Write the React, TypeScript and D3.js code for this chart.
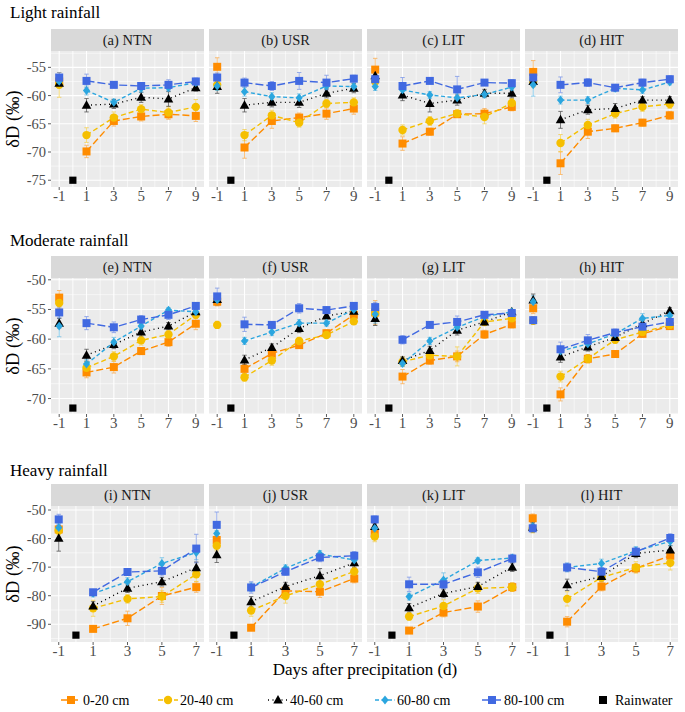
import React from 'react';
import * as d3 from 'd3';

// series labels and colours
const depths = ['0-20 cm', '20-40 cm', '40-60 cm', '60-80 cm', '80-100 cm'];
const depthColors = ['#FF8C00', '#F5BF00', '#000000', '#2BA6DF', '#4169E1'];
const depthShapes = ['square', 'circle', 'triangle', 'diamond', 'square'];
const depthDash = ['7,3', '5,3', '1,3.5', '4,2.5', '8,3'];
const rainLabel = 'Rainwater';

const rowTitles = ['Light rainfall', 'Moderate rainfall', 'Heavy rainfall'];
const panelTitles = [
  ['(a) NTN', '(b) USR', '(c) LIT', '(d) HIT'],
  ['(e) NTN', '(f) USR', '(g) LIT', '(h) HIT'],
  ['(i) NTN', '(j) USR', '(k) LIT', '(l) HIT'],
];
const daysLong = [-1, 1, 3, 5, 7, 9];
const daysShort = [-1, 1, 3, 5, 7];
const yTicks = [
  [-75, -70, -65, -60, -55],
  [-70, -65, -60, -55, -50],
  [-90, -80, -70, -60, -50],
];
const rainwater = [-75.0, -71.6, -93.8];

// mean dD per depth (rows) and day (cols)
const lightNTN = [
  [-57.5, -69.9, -64.5, -63.7, -63.3, -63.6],
  [-58.1, -67.0, -63.9, -62.4, -63.0, -62.0],
  [-57.8, -61.7, -61.5, -60.3, -60.6, -58.6],
  [-57.5, -59.1, -61.2, -58.7, -58.6, -57.7],
  [-56.8, -57.4, -58.1, -58.3, -58.1, -57.5],
];
const lightNTNErr = [
  [1.0, 1.1, 0.9, 0.8, 0.9, 1.0],
  [2.2, 1.3, 1.0, 0.8, 1.0, 1.3],
  [0.8, 1.2, 0.8, 0.9, 1.3, 0.6],
  [0.6, 0.8, 0.6, 0.7, 0.6, 0.5],
  [0.9, 1.2, 0.5, 0.6, 0.9, 0.6],
];
const lightUSR = [
  [-54.9, -69.2, -64.5, -63.9, -63.2, -62.3],
  [-58.1, -67.0, -63.5, -64.8, -61.4, -61.2],
  [-58.4, -61.7, -61.2, -61.2, -59.6, -58.7],
  [-58.3, -59.3, -60.2, -60.4, -58.3, -58.4],
  [-56.8, -57.7, -58.3, -57.4, -57.7, -57.0],
];
const lightUSRErr = [
  [1.6, 1.9, 1.3, 0.8, 1.0, 1.0],
  [0.9, 1.0, 0.9, 0.8, 0.7, 0.8],
  [1.2, 1.2, 0.8, 0.9, 0.8, 0.8],
  [0.8, 0.8, 0.7, 0.7, 0.6, 0.6],
  [0.8, 0.8, 0.8, 1.5, 1.3, 0.6],
];
const lightLIT = [
  [-55.4, -68.5, -66.4, -63.3, -63.2, -62.0],
  [-57.5, -66.1, -64.5, -63.2, -63.8, -61.3],
  [-56.5, -59.9, -61.4, -60.8, -59.6, -59.6],
  [-58.4, -59.0, -59.9, -60.4, -59.8, -58.5],
  [-57.1, -58.3, -57.4, -58.9, -57.7, -57.8],
];
const lightLITErr = [
  [2.0, 1.2, 0.6, 0.6, 0.9, 0.7],
  [1.0, 0.9, 0.8, 0.7, 1.2, 0.8],
  [1.0, 1.0, 1.5, 0.9, 0.7, 0.8],
  [0.7, 1.0, 0.6, 0.8, 0.6, 0.6],
  [0.6, 1.5, 0.4, 2.3, 0.5, 0.6],
];
const lightHIT = [
  [-55.8, -72.0, -66.4, -65.8, -64.8, -63.5],
  [-57.5, -68.4, -65.2, -63.2, -62.0, -61.5],
  [-57.5, -64.3, -62.5, -62.3, -60.8, -60.8],
  [-58.1, -60.8, -60.8, -58.7, -59.0, -57.6],
  [-56.8, -58.1, -57.7, -58.6, -57.7, -57.1],
];
const lightHITErr = [
  [2.0, 2.0, 1.2, 0.6, 0.6, 0.7],
  [1.0, 1.5, 1.0, 0.8, 0.8, 0.8],
  [0.8, 1.5, 0.8, 0.9, 0.6, 0.6],
  [2.0, 0.7, 0.6, 0.6, 0.6, 0.5],
  [0.8, 1.4, 0.7, 0.5, 0.6, 0.6],
];
const modNTN = [
  [-53.0, -65.6, -64.7, -62.0, -60.5, -57.4],
  [-53.9, -64.8, -62.9, -60.2, -59.2, -55.9],
  [-57.3, -62.7, -60.9, -58.8, -57.8, -55.4],
  [-57.8, -64.2, -60.5, -57.8, -55.1, -55.4],
  [-55.5, -57.3, -58.0, -56.7, -55.9, -54.4],
];
const modNTNErr = [
  [1.2, 0.9, 1.0, 0.6, 0.7, 1.0],
  [0.9, 1.0, 0.8, 0.8, 0.6, 0.6],
  [0.8, 1.0, 0.7, 0.8, 0.6, 0.6],
  [1.8, 0.8, 0.8, 0.5, 0.4, 0.5],
  [0.9, 1.1, 0.9, 0.7, 0.8, 0.5],
];
const modUSR = [
  [-53.7, -65.0, -62.4, -61.0, -59.0, -55.9],
  [-57.6, -66.4, -63.6, -60.3, -59.3, -57.0],
  [-53.3, -63.5, -61.4, -58.2, -56.1, -55.3],
  [-53.4, -60.3, -58.8, -57.3, -57.3, -55.0],
  [-52.8, -57.5, -57.6, -54.8, -55.1, -54.4],
];
const modUSRErr = [
  [0.7, 0.8, 0.6, 0.5, 0.6, 0.6],
  [0.6, 0.7, 0.8, 0.6, 0.5, 0.5],
  [0.8, 0.8, 0.6, 0.7, 0.4, 0.5],
  [0.9, 0.6, 0.6, 0.6, 0.5, 0.4],
  [1.4, 1.2, 0.5, 0.8, 0.5, 0.5],
];
const modLIT = [
  [-55.5, -66.3, -63.6, -62.9, -59.2, -57.5],
  [-55.7, -63.8, -62.7, -62.9, -57.1, -56.5],
  [-56.5, -63.6, -61.9, -58.5, -57.1, -55.4],
  [-55.8, -64.1, -60.3, -58.0, -56.2, -55.4],
  [-54.6, -60.1, -57.6, -57.1, -55.9, -55.6],
];
const modLITErr = [
  [2.0, 1.2, 0.6, 0.9, 0.7, 0.6],
  [1.2, 0.8, 1.0, 1.6, 0.6, 0.6],
  [1.2, 0.6, 0.7, 0.8, 0.5, 0.4],
  [1.5, 0.5, 0.6, 0.6, 0.5, 0.4],
  [0.8, 0.7, 0.4, 1.0, 0.5, 0.4],
];
const modHIT = [
  [-54.8, -69.3, -63.3, -62.5, -59.1, -57.8],
  [-56.9, -66.3, -63.3, -60.1, -58.8, -57.6],
  [-53.4, -63.0, -61.3, -59.7, -57.4, -55.2],
  [-53.7, -62.0, -60.8, -59.1, -56.5, -56.0],
  [-56.8, -61.7, -60.2, -58.9, -57.9, -57.1],
];
const modHITErr = [
  [0.9, 1.1, 0.7, 0.6, 0.6, 0.5],
  [0.6, 0.9, 0.7, 0.6, 0.5, 0.5],
  [1.0, 0.9, 0.7, 0.6, 0.5, 0.5],
  [1.0, 0.6, 0.6, 0.5, 0.8, 0.5],
  [0.6, 1.2, 1.0, 0.6, 0.5, 0.5],
];
const heavyNTN = [
  [-56.8, -91.6, -87.9, -80.1, -77.0],
  [-57.2, -84.4, -81.1, -80.3, -72.5],
  [-59.9, -83.6, -77.4, -75.1, -70.2],
  [-56.2, -79.2, -75.1, -68.7, -64.9],
  [-53.3, -78.8, -71.7, -71.3, -63.5],
];
const heavyNTNErr = [
  [1.0, 1.0, 2.5, 3.0, 1.8],
  [1.5, 2.8, 1.5, 2.0, 2.5],
  [4.5, 1.5, 1.5, 1.5, 2.0],
  [1.5, 1.2, 1.4, 2.0, 2.5],
  [1.8, 1.0, 1.0, 1.8, 5.0],
];
const heavyUSR = [
  [-60.5, -91.2, -78.3, -78.6, -74.0],
  [-62.5, -85.2, -80.1, -76.0, -71.5],
  [-65.7, -82.1, -76.8, -73.0, -68.5],
  [-58.2, -77.0, -70.4, -65.4, -67.5],
  [-55.2, -77.1, -71.6, -66.6, -66.0],
];
const heavyUSRErr = [
  [1.5, 1.0, 1.5, 2.0, 1.5],
  [1.8, 2.0, 2.5, 2.0, 1.5],
  [2.7, 1.8, 1.5, 2.5, 1.5],
  [1.0, 1.5, 1.2, 1.2, 1.2],
  [4.5, 2.0, 1.2, 1.5, 1.5],
];
const heavyLIT = [
  [-58.2, -92.2, -85.9, -83.8, -77.0],
  [-59.3, -87.3, -83.6, -77.4, -77.0],
  [-55.8, -84.2, -79.2, -76.8, -70.0],
  [-56.4, -80.3, -74.5, -67.7, -66.8],
  [-53.3, -76.0, -76.0, -71.8, -67.0],
];
const heavyLITErr = [
  [1.5, 0.8, 1.5, 2.0, 1.5],
  [1.8, 1.3, 2.2, 1.8, 1.5],
  [1.2, 1.5, 1.5, 1.5, 1.5],
  [1.2, 1.2, 2.5, 1.0, 1.0],
  [1.2, 2.5, 1.5, 1.8, 1.5],
];
const heavyHIT = [
  [-52.9, -89.1, -76.8, -70.4, -66.0],
  [-56.5, -81.1, -73.6, -70.1, -68.5],
  [-56.0, -76.2, -73.3, -65.2, -64.0],
  [-55.8, -70.1, -68.7, -64.3, -61.0],
  [-56.4, -70.1, -71.6, -64.6, -59.8],
];
const heavyHITErr = [
  [1.5, 1.8, 1.5, 1.5, 1.5],
  [1.5, 2.5, 1.5, 2.0, 2.5],
  [1.5, 2.0, 1.5, 1.5, 1.5],
  [1.5, 1.5, 1.5, 1.5, 1.5],
  [1.5, 1.5, 1.5, 1.5, 1.5],
];

const means = [
  [lightNTN, lightUSR, lightLIT, lightHIT],
  [modNTN, modUSR, modLIT, modHIT],
  [heavyNTN, heavyUSR, heavyLIT, heavyHIT],
];
const errs = [
  [lightNTNErr, lightUSRErr, lightLITErr, lightHITErr],
  [modNTNErr, modUSRErr, modLITErr, modHITErr],
  [heavyNTNErr, heavyUSRErr, heavyLITErr, heavyHITErr],
];

// layout
const W = 685;
const H = 712;
const panelX = [51, 209, 367, 525];
const panelW = 153;
const plotTop = [51, 278, 506];
const plotH = 136;
const stripH = 22;
const titleY = [18, 246, 476];
const xDomains: [number, number][] = [[-1.6, 9.6], [-1.6, 9.6], [-1.45, 7.45]];
const yDomains: [number, number][] = [[-76.2, -52.1], [-72.6, -49.7], [-96.2, -48.6]];
const FONT = '"Liberation Serif", "Times New Roman", serif';

function Marker({ shape, cx, cy, color, s = 1 }: { shape: string; cx: number; cy: number; color: string; s?: number }) {
  if (shape === 'square') {
    const h = 4 * s;
    return <rect x={cx - h} y={cy - h} width={2 * h} height={2 * h} fill={color} />;
  }
  if (shape === 'circle') {
    return <circle cx={cx} cy={cy} r={4.2 * s} fill={color} />;
  }
  if (shape === 'triangle') {
    const w = 4.8 * s;
    return (
      <path
        d={`M${cx},${cy - 5 * s}L${cx + w},${cy + 3.5 * s}L${cx - w},${cy + 3.5 * s}Z`}
        fill={color}
      />
    );
  }
  const a = 3.6 * s;
  const b = 4.4 * s;
  return <path d={`M${cx},${cy - b}L${cx + a},${cy}L${cx},${cy + b}L${cx - a},${cy}Z`} fill={color} />;
}

function minorBreaks(ticks: number[], domain: [number, number]) {
  const step = ticks[1] - ticks[0];
  const out: number[] = [];
  for (let t = ticks[0] - step / 2; t <= ticks[ticks.length - 1] + step / 2 + 1e-9; t += step) {
    if (t >= Math.min(...domain) && t <= Math.max(...domain)) out.push(t);
  }
  return out;
}

function Panel({ row, col }: { row: number; col: number }) {
  const x0 = panelX[col];
  const y0 = plotTop[row];
  const days = row === 2 ? daysShort : daysLong;
  const x = d3.scaleLinear().domain(xDomains[row]).range([x0, x0 + panelW]);
  const y = d3.scaleLinear().domain(yDomains[row]).range([y0 + plotH, y0]);
  const yt = yTicks[row];
  const yMinor = minorBreaks(yt, yDomains[row]);
  const xMinor = minorBreaks(days.slice(1), xDomains[row]).concat([0]);
  const data = means[row][col];
  const err = errs[row][col];
  const line = d3
    .line<number>()
    .x((_, i) => x(days[i + 1]))
    .y((d) => y(d));

  return (
    <g>
      {/* strip */}
      <rect x={x0} y={y0 - stripH} width={panelW} height={stripH} fill="#D9D9D9" />
      <text
        x={x0 + panelW / 2}
        y={y0 - stripH / 2 + 5}
        textAnchor="middle"
        fontSize={14.5}
        fill="#1A1A1A"
        fontFamily={FONT}
      >
        {panelTitles[row][col]}
      </text>
      {/* background + grid */}
      <rect x={x0} y={y0} width={panelW} height={plotH} fill="#EBEBEB" />
      {yMinor.map((v) => (
        <line key={'ym' + v} x1={x0} x2={x0 + panelW} y1={y(v)} y2={y(v)} stroke="#fff" strokeWidth={0.55} />
      ))}
      {xMinor.map((v) => (
        <line key={'xm' + v} x1={x(v)} x2={x(v)} y1={y0} y2={y0 + plotH} stroke="#fff" strokeWidth={0.55} />
      ))}
      {yt.map((v) => (
        <line key={'y' + v} x1={x0} x2={x0 + panelW} y1={y(v)} y2={y(v)} stroke="#fff" strokeWidth={1.1} />
      ))}
      {days.map((v) => (
        <line key={'x' + v} x1={x(v)} x2={x(v)} y1={y0} y2={y0 + plotH} stroke="#fff" strokeWidth={1.1} />
      ))}
      {/* error bars */}
      {data.map((series, si) =>
        series.map((v, i) => (
          <g key={`e${si}-${i}`} stroke={depthColors[si]} strokeWidth={0.8} opacity={0.65}>
            <line x1={x(days[i])} x2={x(days[i])} y1={y(v - err[si][i])} y2={y(v + err[si][i])} />
            <line x1={x(days[i]) - 2.2} x2={x(days[i]) + 2.2} y1={y(v - err[si][i])} y2={y(v - err[si][i])} />
            <line x1={x(days[i]) - 2.2} x2={x(days[i]) + 2.2} y1={y(v + err[si][i])} y2={y(v + err[si][i])} />
          </g>
        ))
      )}
      {/* lines */}
      {data.map((series, si) => (
        <path
          key={'l' + si}
          d={line(series.slice(1)) || ''}
          fill="none"
          stroke={depthColors[si]}
          strokeWidth={1.4}
          strokeDasharray={depthDash[si]}
        />
      ))}
      {/* points */}
      {data.map((series, si) =>
        series.map((v, i) => (
          <Marker key={`p${si}-${i}`} shape={depthShapes[si]} cx={x(days[i])} cy={y(v)} color={depthColors[si]} />
        ))
      )}
      <Marker shape="square" cx={x(0)} cy={y(rainwater[row])} color="#000" s={0.9} />
      {/* x axis */}
      {days.map((v) => (
        <g key={'xt' + v}>
          <line x1={x(v)} x2={x(v)} y1={y0 + plotH} y2={y0 + plotH + 3} stroke="#333" strokeWidth={0.8} />
          <text
            x={x(v)}
            y={y0 + plotH + 14}
            textAnchor="middle"
            fontSize={15}
            fill="#4D4D4D"
            fontFamily={FONT}
          >
            {v}
          </text>
        </g>
      ))}
      {/* y axis */}
      {col === 0 &&
        yt.map((v) => (
          <g key={'yt' + v}>
            <line x1={x0 - 3} x2={x0} y1={y(v)} y2={y(v)} stroke="#333" strokeWidth={0.8} />
            <text
              x={x0 - 5}
              y={y(v) + 5}
              textAnchor="end"
              fontSize={14.5}
              fill="#4D4D4D"
              fontFamily={FONT}
            >
              {v}
            </text>
          </g>
        ))}
    </g>
  );
}

const legendX = [71, 168, 278, 385, 492, 603];

export default function App() {
  return (
    <svg
      width={W}
      height={H}
      viewBox={`0 0 ${W} ${H}`}
      style={{ position: 'absolute', left: 0, top: 0, background: '#fff' }}
    >
      <rect width={W} height={H} fill="#fff" />
      {rowTitles.map((t, r) => (
        <text key={t} x={10} y={titleY[r]} fontSize={17} fill="#000" fontFamily={FONT}>
          {t}
        </text>
      ))}
      {[0, 1, 2].map((r) => (
        <g key={'row' + r}>
          {[0, 1, 2, 3].map((c) => (
            <Panel key={c} row={r} col={c} />
          ))}
          <text
            transform={`translate(19,${plotTop[r] + plotH / 2}) rotate(-90)`}
            textAnchor="middle"
            fontSize={18.5}
            fill="#000"
            fontFamily={FONT}
          >
            δD (‰)
          </text>
        </g>
      ))}
      <text x={365} y={675} textAnchor="middle" fontSize={17} fill="#000" fontFamily={FONT}>
        Days after precipitation (d)
      </text>
      {/* legend */}
      {depths.map((d, i) => (
        <g key={d}>
          <line
            x1={legendX[i] - 10}
            x2={legendX[i] + 10}
            y1={700}
            y2={700}
            stroke={depthColors[i]}
            strokeWidth={1.4}
            strokeDasharray={depthDash[i]}
          />
          <Marker shape={depthShapes[i]} cx={legendX[i]} cy={700} color={depthColors[i]} />
          <text x={legendX[i] + 12} y={705} fontSize={14} fill="#000" fontFamily={FONT}>
            {d}
          </text>
        </g>
      ))}
      <Marker shape="square" cx={legendX[5]} cy={700} color="#000" />
      <text x={legendX[5] + 12} y={705} fontSize={14} fill="#000" fontFamily={FONT}>
        {rainLabel}
      </text>
    </svg>
  );
}
